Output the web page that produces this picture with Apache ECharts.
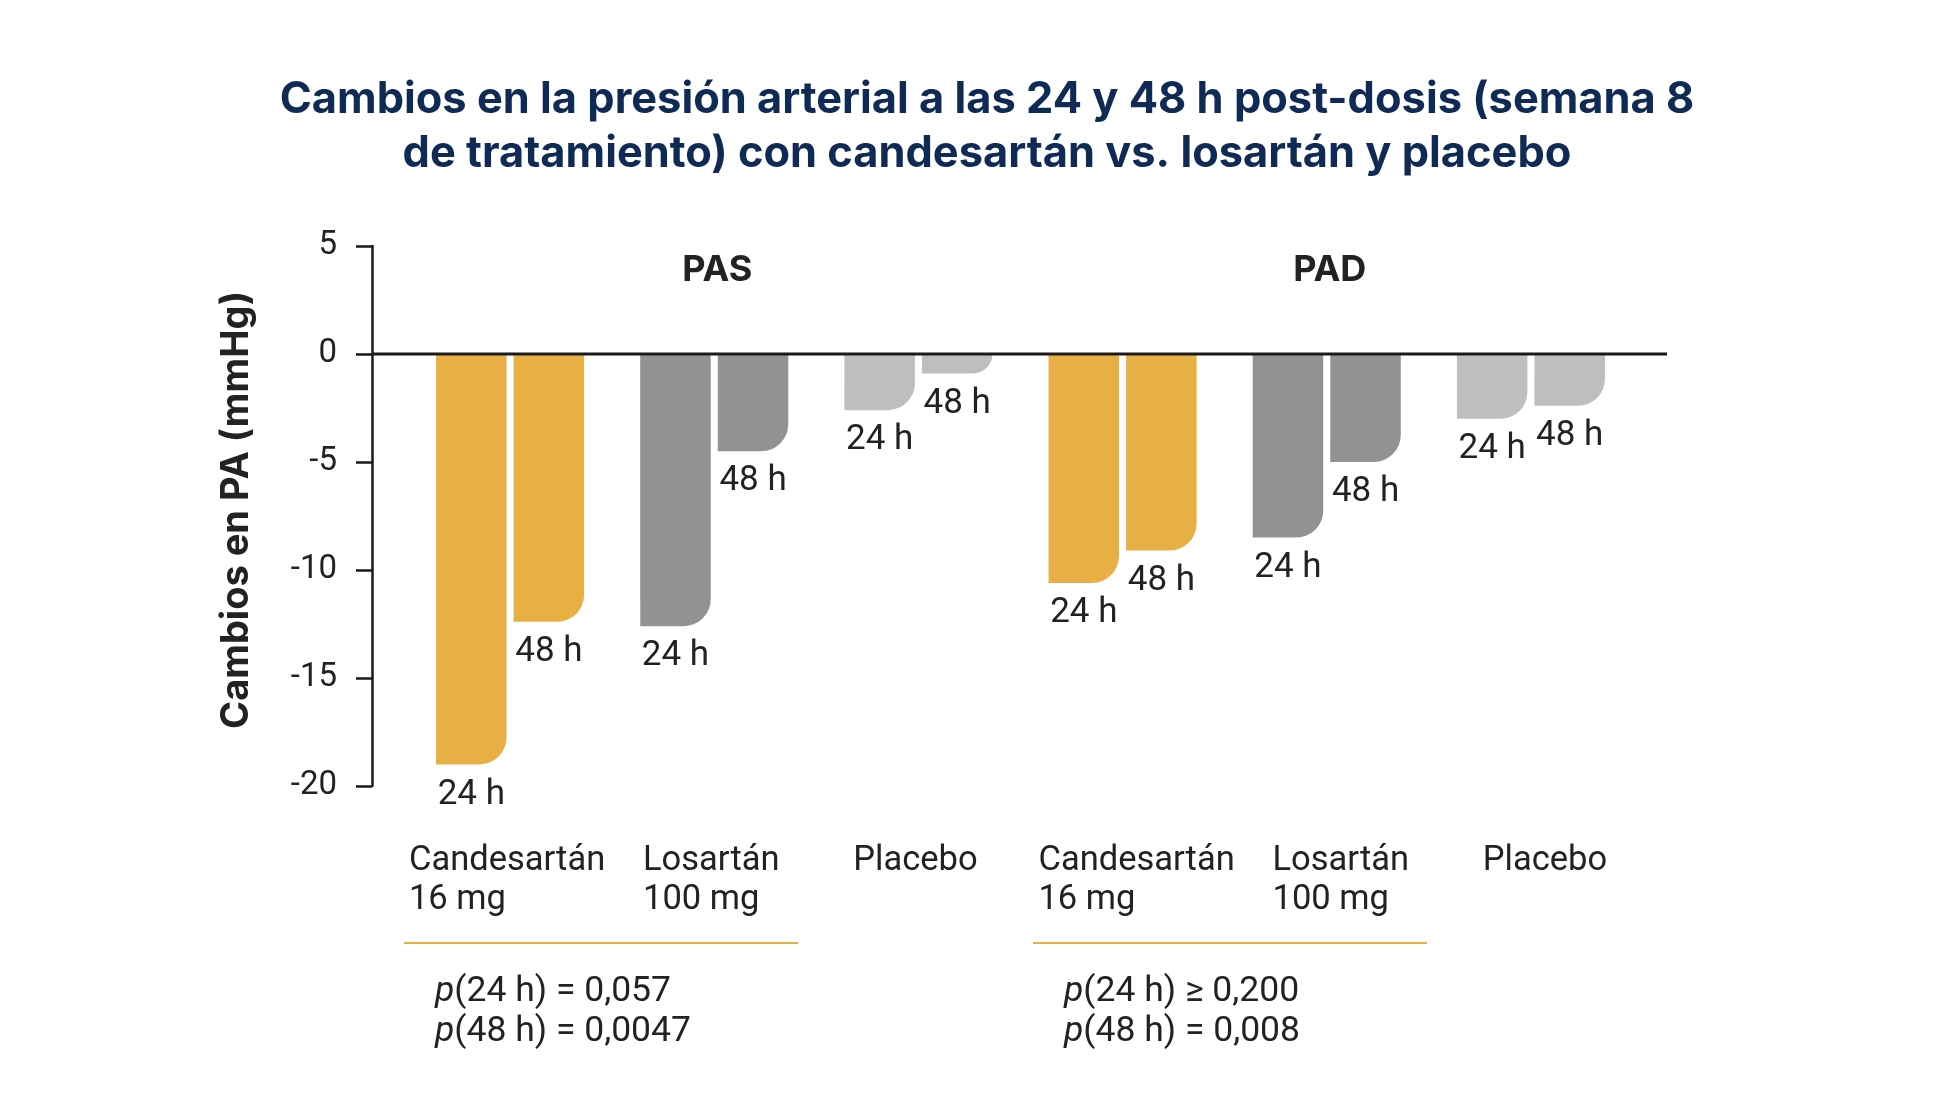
<!DOCTYPE html>
<html>
<head>
<meta charset="utf-8">
<title>Cambios en la presión arterial</title>
<script src="https://cdn.jsdelivr.net/npm/echarts@6/dist/echarts.min.js"></script>
<style>
  html, body { margin: 0; padding: 0; background: #fff; }
  #main { width: 1936px; height: 1104px; }
</style>
</head>
<body>
<div id="main"></div>
<script>
// datos (mmHg)
var categories = ['Candesartán\n16 mg', 'Losartán\n100 mg', 'Placebo', 'Candesartán\n16 mg', 'Losartán\n100 mg', 'Placebo'];
var seriesNames = ['24 h', '48 h'];
var values24h = [-19.0, -12.6, -2.6, -10.6, -8.5, -3.0];
var values48h = [-12.4, -4.5, -0.9, -9.1, -5.0, -2.4];
var yMin = -20, yMax = 5, yStep = 5;
var groupLabels = ['PAS', 'PAD'];
var groupMiddle = [1, 4];   // índice de la categoría central de cada grupo
var pTexts = [
  ['p|(24 h) = 0,057', 'p|(48 h) = 0,0047'],
  ['p|(24 h) ≥ 0,200', 'p|(48 h) = 0,008']
];

var drugColors = ['#E8AF45', '#929292', '#BEBEBE'];
var font = 'Roboto';
var boldFont = 'Inter';
var ink = '#222222';

var myChart = echarts.init(document.getElementById('main'));

function barSeries(name, values) {
  return {
    name: name,
    type: 'bar',
    data: values,
    barWidth: 70.5,
    barGap: '10%',
    itemStyle: {
      color: function (p) { return drugColors[p.dataIndex % 3]; },
      borderRadius: [0, 0, 27, 0]
    },
    label: {
      show: true,
      position: 'bottom',
      distance: 13,
      formatter: name,
      fontFamily: font,
      fontSize: 35,
      color: ink
    },
    silent: true
  };
}

var catText = {
  fontFamily: font,
  fontSize: 34.5,
  lineHeight: 39,
  color: ink,
  align: 'left'
};

var option = {
  backgroundColor: '#fff',
  animation: false,
  title: {
    text: 'Cambios en la presión arterial a las 24 y 48 h post-dosis (semana 8\nde tratamiento) con candesartán vs. losartán y placebo',
    left: 982,
    top: 68,
    textAlign: 'center',
    textStyle: {
      fontFamily: boldFont,
      fontSize: 43.4,
      fontWeight: 'bold',
      color: '#0e2a55',
      lineHeight: 54
    }
  },
  grid: {
    left: 408,
    width: 1225,
    top: 246,
    height: 540
  },
  xAxis: {
    type: 'category',
    data: categories,
    axisLine: { show: false, onZero: false },
    axisTick: { show: false },
    axisLabel: {
      margin: 56,
      interval: 0,
      formatter: function (v, i) {
        var st = i < 3 ? 'a' : 'b';
        return v.split('\n').map(function (s) { return '{' + st + '|' + s + '}'; }).join('\n');
      },
      rich: {
        a: echarts.util.extend({ padding: [0, 6, 0, 0] }, catText),
        b: echarts.util.extend({ padding: [0, 0, 0, 28] }, catText)
      }
    }
  },
  yAxis: {
    type: 'value',
    min: yMin,
    max: yMax,
    interval: yStep,
    offset: 36,
    name: 'Cambios en PA (mmHg)',
    nameLocation: 'middle',
    nameGap: 116,
    nameTextStyle: {
      fontFamily: boldFont,
      fontSize: 38,
      fontWeight: 'bold',
      color: ink,
      padding: [0, 0, 0, 12]
    },
    axisLine: { show: true, lineStyle: { color: '#1a1a1a', width: 2.5 } },
    axisTick: { show: true, length: 16, lineStyle: { color: '#1a1a1a', width: 2.5 } },
    axisLabel: { margin: 35, fontFamily: font, fontSize: 33, color: ink },
    splitLine: { show: false }
  },
  series: [
    barSeries(seriesNames[0], values24h),
    barSeries(seriesNames[1], values48h)
  ]
};
myChart.setOption(option);

// línea del cero, etiquetas de grupo y valores p
var y0 = myChart.convertToPixel({ yAxisIndex: 0 }, 0);
var axisX = option.grid.left - option.yAxis.offset;
var graphics = [{
  type: 'line',
  shape: { x1: axisX, y1: y0, x2: 1667, y2: y0 },
  style: { stroke: '#1a1a1a', lineWidth: 3 },
  z: 10
}];

var bracketLeft = [404, 1033];
for (var g = 0; g < groupLabels.length; g++) {
  var cx = myChart.convertToPixel({ xAxisIndex: 0 }, groupMiddle[g]);
  graphics.push({
    type: 'text',
    x: cx + 3, y: 270,
    style: {
      text: groupLabels[g],
      fontFamily: boldFont, fontSize: 36, fontWeight: 'bold',
      fill: ink, align: 'center', verticalAlign: 'middle'
    }
  });
  graphics.push({
    type: 'line',
    shape: { x1: bracketLeft[g], y1: 943, x2: bracketLeft[g] + 394, y2: 943 },
    style: { stroke: '#E8AF45', lineWidth: 2 }
  });
  graphics.push({
    type: 'text',
    x: bracketLeft[g] + 31, y: 972,
    style: {
      text: pTexts[g].map(function (s) {
        var parts = s.split('|');
        return '{i|' + parts[0] + '}{n|' + parts[1] + '}';
      }).join('\n'),
      rich: {
        i: { fontFamily: font, fontSize: 35.5, fontStyle: 'italic', fill: ink, lineHeight: 40 },
        n: { fontFamily: font, fontSize: 35.5, fill: ink, lineHeight: 40 }
      },
      align: 'left', verticalAlign: 'top'
    }
  });
}
myChart.setOption({ graphic: graphics });
</script>
</body>
</html>
